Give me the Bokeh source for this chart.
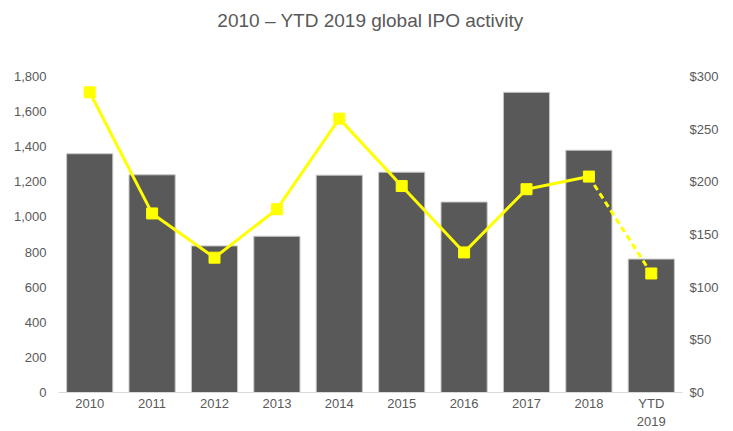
from bokeh.plotting import figure
from bokeh.models import Range1d, LinearAxis, FixedTicker, NumeralTickFormatter, ColumnDataSource, Title
from bokeh.embed import file_html
from bokeh.resources import INLINE

years = ["2010", "2011", "2012", "2013", "2014", "2015", "2016", "2017", "2018", "YTD 2019"]
ipo_count = [1360, 1240, 835, 890, 1238, 1255, 1085, 1710, 1380, 760]
proceeds_usd_bn = [285, 170, 128, 174, 260, 196, 133, 193, 205, 113]

FONT = "Liberation Sans"
GREY = "#595959"
TITLE = "2010 \u2013 YTD 2019 global IPO activity"

xs = list(range(len(years)))

p = figure(x_range=Range1d(-0.5, len(years) - 0.5), y_range=Range1d(0, 1800), width=733, height=431,
           output_backend="svg", toolbar_location=None, title=None,
           min_border_left=58, min_border_right=51, min_border_bottom=38, min_border_top=76)
# two trailing empty lines lift the title towards the top of the page
p.add_layout(Title(text=TITLE + "\n\n", align="center", text_font=FONT, text_font_size="19px",
                   text_font_style="normal", text_color=GREY, standoff=8), "above")

p.extra_y_ranges = {"usd": Range1d(0, 300)}

src = ColumnDataSource(dict(x=xs, n=ipo_count, v=proceeds_usd_bn))
p.vbar(x="x", top="n", width=0.74, source=src, fill_color="#595959", line_color="#c8c8c8", line_width=1)

p.line(x=xs[:9], y=proceeds_usd_bn[:9], line_color="#FFFF00", line_width=3, y_range_name="usd")
p.line(x=xs[8:], y=proceeds_usd_bn[8:], line_color="#FFFF00", line_width=3, line_dash="6 4", y_range_name="usd")
p.scatter(x=xs, y=proceeds_usd_bn, marker="square", size=11, fill_color="#FFFF00", line_color="#FFFF00",
          y_range_name="usd")

p.yaxis.ticker = FixedTicker(ticks=list(range(0, 1801, 200)))
p.yaxis.formatter = NumeralTickFormatter(format="0,0")

ax_r = LinearAxis(y_range_name="usd", ticker=FixedTicker(ticks=list(range(0, 301, 50))),
                  formatter=NumeralTickFormatter(format="$0"))
p.add_layout(ax_r, "right")

for ax in [p.yaxis[0], ax_r, p.xaxis[0]]:
    ax.major_tick_line_color = None
    ax.minor_tick_line_color = None
    ax.major_tick_out = 0
    ax.major_tick_in = 0
    ax.minor_tick_out = 0
    ax.minor_tick_in = 0
    ax.major_label_text_font = FONT
    ax.major_label_text_font_size = "13px"
    ax.major_label_text_color = GREY
for ax in [p.yaxis[0], ax_r]:
    ax.axis_line_color = None
p.yaxis[0].major_label_standoff = 12
ax_r.major_label_standoff = 7

p.xaxis.ticker = FixedTicker(ticks=xs)
p.xaxis.major_label_overrides = {i: y.replace(" ", "\n") for i, y in zip(xs, years)}
p.xaxis.axis_line_color = "#d9d9d9"
p.xaxis.major_label_standoff = 3

p.xgrid.grid_line_color = None
p.ygrid.grid_line_color = None
p.outline_line_color = None

open("out.html", "w").write(file_html(p, INLINE))
